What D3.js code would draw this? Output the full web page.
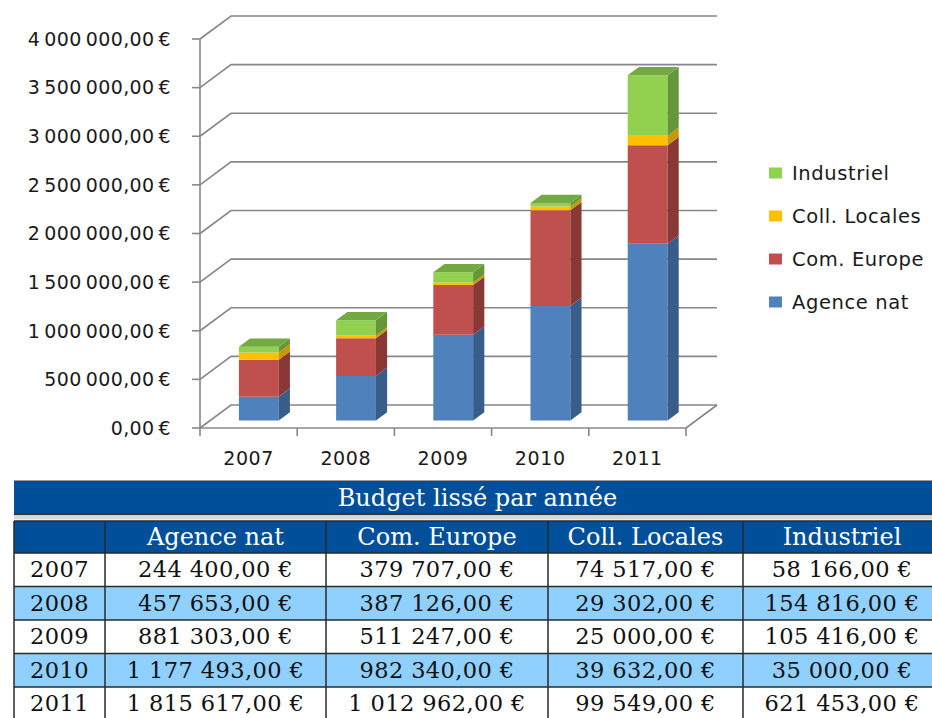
<!DOCTYPE html>
<html>
<head>
<meta charset="utf-8">
<script src="https://cdn.jsdelivr.net/npm/d3@7"></script>
<style>
  html, body { margin: 0; padding: 0; background: #fff; }
  svg { display: block; }
</style>
</head>
<body>
<svg id="chart" width="932" height="718"></svg>
<script>
// Budget data per year and funding source
const years = ["2007", "2008", "2009", "2010", "2011"];
const seriesNames = ["Agence nat", "Com. Europe", "Coll. Locales", "Industriel"];
const agenceNat   = [244400, 457653, 881303, 1177493, 1815617];
const comEurope   = [379707, 387126, 511247, 982340, 1012962];
const collLocales = [74517, 29302, 25000, 39632, 99549];
const industriel  = [58166, 154816, 105416, 35000, 621453];
const yTicks = [0, 500000, 1000000, 1500000, 2000000, 2500000, 3000000, 3500000, 4000000];
const tableTitle = "Budget lissé par année";

// Colours: front face, side face, top face
const palette = {
  "Agence nat":    { front: "#4f81bd", side: "#385d8a", top: "#4672a8" },
  "Com. Europe":   { front: "#c0504d", side: "#8a3836", top: "#a94644" },
  "Coll. Locales": { front: "#ffc000", side: "#c99700", top: "#e6ad00" },
  "Industriel":    { front: "#92d050", side: "#66953a", top: "#74a843" }
};

const rows = years.map((yr, i) => ({
  year: yr,
  "Agence nat": agenceNat[i],
  "Com. Europe": comEurope[i],
  "Coll. Locales": collLocales[i],
  "Industriel": industriel[i]
}));

const svg = d3.select("#chart");

// ---------- 3D stacked column chart ----------
const x = d3.scaleBand().domain(years).range([200, 686]);
const y = d3.scaleLinear().domain([0, 4000000]).range([428, 39]);
const DX = 31, DY = 23;            // full depth of the plot box
const f0 = 0.33, f1 = 0.69;        // bar front / back depth fractions
const barW = x.bandwidth() * 0.41;

const eur = d3.formatLocale({ decimal: ",", thousands: " ", grouping: [3], currency: ["", " €"] });
const fmtAxis = eur.format("$,.2f");

const grid = svg.append("g").attr("fill", "none").attr("stroke", "#878787").attr("stroke-width", 1.6);

// side wall diagonals + back wall gridlines
grid.selectAll("path.gl").data(yTicks).join("path").attr("class", "gl")
  .attr("d", t => `M${x.range()[0]},${y(t)} L${x.range()[0] + DX},${y(t) - DY} L${x.range()[1] + DX},${y(t) - DY}`);

// floor right edge
grid.append("path").attr("d", `M${x.range()[1]},${y(0)} L${x.range()[1] + DX},${y(0) - DY}`);

// value axis line + ticks
grid.append("line").attr("x1", 200).attr("x2", 200).attr("y1", y(0)).attr("y2", y(4000000));
grid.selectAll("line.yt").data(yTicks).join("line").attr("class", "yt")
  .attr("x1", 192).attr("x2", 200).attr("y1", d => y(d)).attr("y2", d => y(d));

// category axis line + ticks
grid.append("line").attr("x1", x.range()[0]).attr("x2", x.range()[1]).attr("y1", y(0)).attr("y2", y(0));
const catEdges = years.map(d => x(d)).concat([x.range()[1]]);
grid.selectAll("line.xt").data(catEdges).join("line").attr("class", "xt")
  .attr("x1", d => d).attr("x2", d => d).attr("y1", y(0)).attr("y2", y(0) + 8);

// value labels
svg.append("g").selectAll("text").data(yTicks).join("text")
  .attr("x", 171).attr("y", d => y(d)).attr("dy", "0.36em")
  .attr("text-anchor", "end")
  .attr("font-family", "DejaVu Sans").attr("font-size", 19)
  .attr("letter-spacing", 0.4).attr("word-spacing", -2.5)
  .attr("fill", "#1a1a1a")
  .text(d => fmtAxis(d));

// category labels
svg.append("g").selectAll("text").data(years).join("text")
  .attr("x", d => x(d) + x.bandwidth() / 2).attr("y", 465)
  .attr("text-anchor", "middle")
  .attr("font-family", "DejaVu Sans").attr("font-size", 19).attr("letter-spacing", 0.6)
  .attr("fill", "#1a1a1a")
  .text(d => d);

// stacked bars
const stack = d3.stack().keys(seriesNames)(rows);
const segs = [];
stack.forEach((layer, li) => {
  layer.forEach((s, i) => segs.push({ key: layer.key, year: years[i], y0: s[0], y1: s[1], last: li === stack.length - 1 }));
});

const bars = svg.append("g");
segs.forEach(s => {
  const xl = x(s.year) + (x.bandwidth() - barW) / 2;
  const xr = xl + barW;
  const fx = f0 * DX, fy = f0 * DY, bx = f1 * DX, by = f1 * DY;
  const yb = y(s.y0), yt = y(s.y1);
  const c = palette[s.key];
  const g = bars.append("g");
  // front face
  g.append("path").attr("fill", c.front)
    .attr("d", `M${xl + fx},${yb - fy} L${xr + fx},${yb - fy} L${xr + fx},${yt - fy} L${xl + fx},${yt - fy}Z`);
  // right side face
  g.append("path").attr("fill", c.side)
    .attr("d", `M${xr + fx},${yb - fy} L${xr + bx},${yb - by} L${xr + bx},${yt - by} L${xr + fx},${yt - fy}Z`);
  if (s.last) {
    // top face
    g.append("path").attr("fill", c.top)
      .attr("d", `M${xl + fx},${yt - fy} L${xr + fx},${yt - fy} L${xr + bx},${yt - by} L${xl + bx},${yt - by}Z`);
  }
});

// legend
const legendOrder = seriesNames.slice().reverse();
const leg = svg.append("g").selectAll("g").data(legendOrder).join("g")
  .attr("transform", (d, i) => `translate(769,${173 + i * 43})`);
leg.append("rect").attr("x", 0).attr("y", -5.5).attr("width", 13).attr("height", 11)
  .attr("fill", d => palette[d].front);
leg.append("text").attr("x", 23).attr("dy", "0.36em")
  .attr("font-family", "DejaVu Sans").attr("font-size", 19.5).attr("letter-spacing", 0.6)
  .attr("fill", "#1a1a1a").text(d => d);

// ---------- summary table ----------
const colEdges = [14, 105, 326, 548, 743, 941];
const titleTop = 481, titleBot = 514.5, headTop = 521, headBot = 553, rowH = 33.5;
const darkBlue = "#004f9b", lightBlue = "#8fd0ff";
const fmtCell = eur.format("$,.2f");

const tbl = svg.append("g");
// title bar
tbl.append("line").attr("x1", colEdges[0]).attr("x2", 932).attr("y1", titleTop - 0.5).attr("y2", titleTop - 0.5)
  .attr("stroke", "#9a9a9a").attr("stroke-width", 1);
tbl.append("rect").attr("x", colEdges[0]).attr("y", titleTop).attr("width", colEdges[5] - colEdges[0]).attr("height", titleBot - titleTop)
  .attr("fill", darkBlue);
tbl.append("line").attr("x1", colEdges[0]).attr("x2", 941).attr("y1", titleBot).attr("y2", titleBot)
  .attr("stroke", "#333").attr("stroke-width", 1.5);
tbl.append("rect").attr("x", colEdges[0]).attr("y", titleBot + 1).attr("width", colEdges[5] - colEdges[0]).attr("height", 4)
  .attr("fill", "#d9d9d9");
tbl.append("text").attr("x", (colEdges[0] + colEdges[5]) / 2).attr("y", 506)
  .attr("text-anchor", "middle").attr("font-family", "DejaVu Serif").attr("font-size", 24)
  .attr("fill", "#fff").text(tableTitle);

// header row
tbl.append("rect").attr("x", colEdges[0]).attr("y", headTop).attr("width", colEdges[5] - colEdges[0]).attr("height", headBot - headTop)
  .attr("fill", darkBlue);
const headers = [""].concat(seriesNames);
tbl.selectAll("text.h").data(headers).join("text").attr("class", "h")
  .attr("x", (d, i) => (colEdges[i] + colEdges[i + 1]) / 2).attr("y", 545)
  .attr("text-anchor", "middle").attr("font-family", "DejaVu Serif").attr("font-size", 24)
  .attr("fill", "#fff").text(d => d);

// body rows
const body = tbl.selectAll("g.r").data(rows).join("g").attr("class", "r")
  .attr("transform", (d, i) => `translate(0,${headBot + i * rowH})`);
body.append("rect").attr("x", colEdges[0]).attr("y", 0).attr("width", colEdges[5] - colEdges[0]).attr("height", rowH)
  .attr("fill", (d, i) => i % 2 ? lightBlue : "#fff");
body.selectAll("text").data(d => [d.year].concat(seriesNames.map(k => fmtCell(d[k])))).join("text")
  .attr("x", (d, i) => (colEdges[i] + colEdges[i + 1]) / 2).attr("y", 24)
  .attr("text-anchor", "middle").attr("font-family", "DejaVu Serif").attr("font-size", 22.5)
  .attr("letter-spacing", 0.4).attr("fill", "#111").text(d => d);

// grid lines of the table
const lastBot = headBot + rows.length * rowH;
tbl.append("g").selectAll("line").data(colEdges).join("line")
  .attr("x1", d => d).attr("x2", d => d).attr("y1", headTop).attr("y2", lastBot)
  .attr("stroke", "#2a2a2a").attr("stroke-width", 1.5);
const hLines = d3.range(rows.length + 2).map(i => i === 0 ? headTop : headBot + (i - 1) * rowH);
tbl.append("g").selectAll("line").data(hLines).join("line")
  .attr("x1", colEdges[0]).attr("x2", colEdges[5]).attr("y1", d => d).attr("y2", d => d)
  .attr("stroke", "#2a2a2a").attr("stroke-width", 1.5);
</script>
</body>
</html>
